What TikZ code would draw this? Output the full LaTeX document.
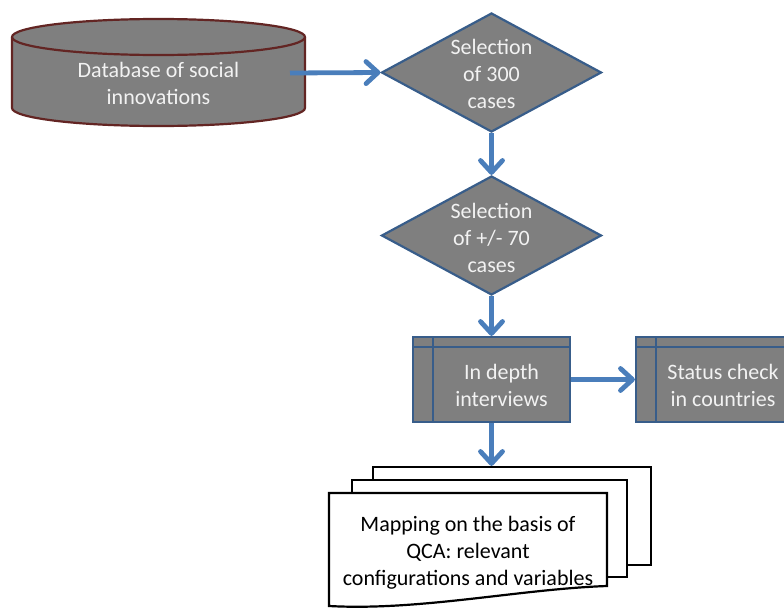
\documentclass[tikz,border=0pt]{standalone}
\usepackage{fontspec}
\setmainfont{Carlito}
\usetikzlibrary{arrows.meta,shapes.geometric,calc}

\definecolor{shapegray}{HTML}{7F7F7F}
\definecolor{edgeblue}{HTML}{385D8A}
\definecolor{flowblue}{HTML}{4A7EBB}
\definecolor{dbred}{HTML}{632523}
\definecolor{lighttext}{HTML}{F2F2F2}

\tikzset{
  flow/.style={draw=flowblue, line width=4.8pt,
    -{Straight Barb[length=12pt,width=22pt,line width=4.8pt,round]}},
  txt/.style={font=\fontsize{22}{27}\selectfont, text=lighttext, align=center, inner sep=0pt},
  darktxt/.style={txt, text=black},
  decision/.style={diamond, draw=edgeblue, fill=shapegray, line width=2.2pt,
    inner sep=0pt, minimum width=220pt, minimum height=119pt},
  storage/.style={rectangle, draw=edgeblue, fill=shapegray, line width=2.2pt,
    inner sep=0pt, minimum width=157pt, minimum height=85pt,
    path picture={
      \draw[edgeblue, line width=2.2pt]
        ([xshift=20pt]path picture bounding box.north west) --
        ([xshift=20pt]path picture bounding box.south west)
        ([yshift=-10pt]path picture bounding box.north west) --
        ([yshift=-10pt]path picture bounding box.north east);
    }},
  page/.style={draw=black, fill=white, line width=2.2pt},
}

\begin{document}
\begin{tikzpicture}[x=1pt, y=-1pt]
\useasboundingbox (0,0) rectangle (784,608);
\clip (0,0) rectangle (784,608);

% database cylinder
\fill[shapegray] (12,37) -- (12,108) arc[start angle=180, end angle=0, x radius=146.5, y radius=18]
  -- (305,37) arc[start angle=0, end angle=-180, x radius=146.5, y radius=18] -- cycle;
\draw[dbred, line width=2.2pt] (12,37) -- (12,108) arc[start angle=180, end angle=0, x radius=146.5, y radius=18]
  -- (305,37);
\draw[dbred, line width=2.2pt] (158.5,37) ellipse[x radius=146.5, y radius=18];
\node[txt] (db) at (158.5,83.5) {Database of social\\innovations};
\coordinate (dbout) at (290,73);

% selection steps
\node[decision] (sel1) at (491.5,72.5) {};
\node[txt] (sel1t) at (491.5,74) {Selection\\of 300\\cases};
\node[decision] (sel2) at (491.5,235.5) {};
\node[txt] (sel2t) at (491.5,237.5) {Selection\\of +/- 70\\cases};

% interviews and status check
\node[storage] (intv) at (491.5,379.5) {};
\node[txt] (intvt) at (501.5,385) {In depth\\interviews};
\node[storage, minimum width=152pt] (stat) at (712,379.5) {};
\node[txt] (statt) at (723,385) {Status check\\in countries};

% stacked document
\node[page, minimum width=278pt, minimum height=98pt, inner sep=0pt] (docback) at (512,516) {};
\node[page, minimum width=275pt, minimum height=97pt, inner sep=0pt] (docmid) at (489.5,528.5) {};
\filldraw[page] (329,493) -- (607,493) -- (607,586)
  .. controls (520,589) and (420,611) .. (329,606) -- cycle;
\node[darktxt] (doct) at (468,553) {Mapping on the basis of\\QCA: relevant\\configurations and variables};

% connectors
\draw[flow] (dbout) -- (sel1.west);
\draw[flow] (sel1.south) -- (sel2.north);
\draw[flow] (sel2.south) -- (intv.north);
\draw[flow] (intv.east) -- (stat.west);
\draw[flow] (intv.south) -- (intv.south |- docback.north);
\end{tikzpicture}
\end{document}
